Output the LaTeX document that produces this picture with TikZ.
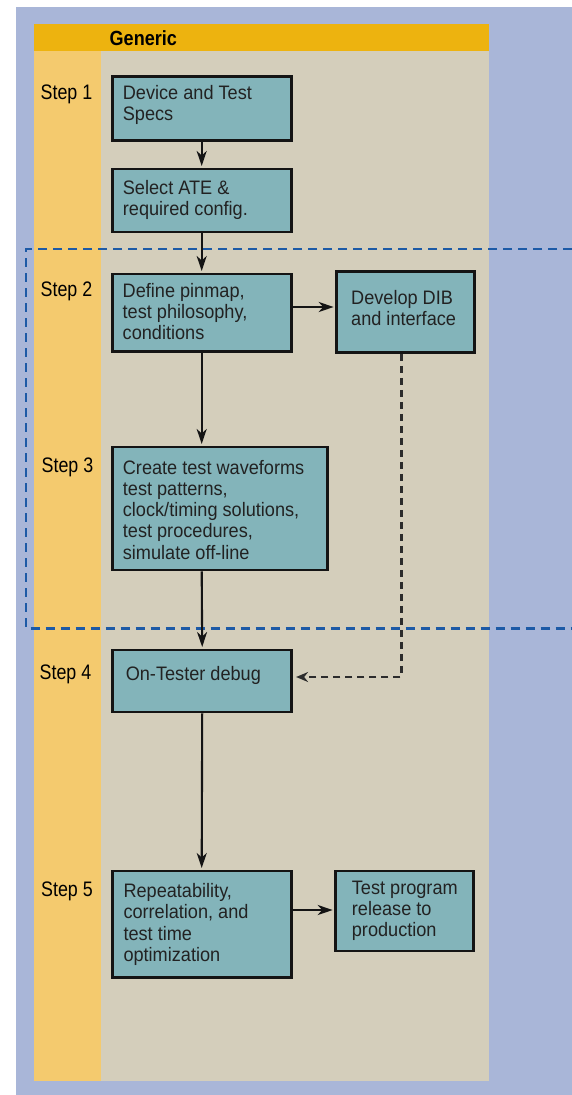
\documentclass[tikz,border=0pt]{standalone}
\usepackage{fontspec}
\usetikzlibrary{arrows.meta,calc}
\newfontfamily\boxfont{Liberation Sans}[FakeStretch=0.93]
\newfontfamily\stepfont{Liberation Sans}[FakeStretch=0.85]
\newfontfamily\headfont{Liberation Sans}[FakeStretch=0.88]
\definecolor{bgblue}{HTML}{A9B6D8}
\definecolor{hdr}{HTML}{EDB30F}
\definecolor{col}{HTML}{F4CA6E}
\definecolor{beige}{HTML}{D4CEBB}
\definecolor{boxfill}{HTML}{83B4BA}
\definecolor{ink}{HTML}{141414}
\definecolor{txt}{HTML}{222222}
\definecolor{dblue}{HTML}{1D5AA6}
\newcommand{\firstline}{\rule{0pt}{14pt}}
\tikzset{
  stepbox/.style={draw=ink, fill=boxfill, line width=2.8pt, inner sep=0pt, anchor=north west},
  boxtext/.style={anchor=north west, inner sep=0pt, align=left, text=txt,
    font=\boxfont\fontsize{19.5}{21.2}\selectfont},
  steplabel/.style={anchor=base, inner sep=0pt, text=black,
    font=\stepfont\fontsize{21}{24}\selectfont},
  arr/.style={draw=ink, line width=2.1pt, -{Stealth[length=15pt,width=10pt,inset=4.5pt]}, shorten >=1.5pt},
  dasharr/.style={draw=ink!90, line width=2.8pt, dash pattern=on 7pt off 5pt,
    -{Stealth[length=12pt,width=10pt,inset=4pt]}, shorten >=3pt},
  bluedash/.style={draw=dblue, line width=2.4pt, dash pattern=on 9pt off 6pt}
}
\begin{document}
\begin{tikzpicture}[x=1pt,y=-1pt]
\useasboundingbox (0,0) rectangle (572,1095);
\fill[white] (0,0) rectangle (572,1095);
\fill[bgblue] (16,7) rectangle (572,1095);
\fill[hdr] (34,23.5) rectangle (489,51);
\fill[col] (34,51) rectangle (101,1081);
\fill[beige] (101,51) rectangle (489,1081);
\node[anchor=base west, inner sep=0pt, text=black,
  font=\headfont\bfseries\fontsize{20.5}{24}\selectfont] (hd) at (109.5,45) {Generic};

% step labels
\node[steplabel] (s1) at (66.5,99) {Step 1};
\node[steplabel] (s2) at (66.5,296.7) {Step 2};
\node[steplabel] (s3) at (67.5,472.3) {Step 3};
\node[steplabel] (s4) at (65.5,679) {Step 4};
\node[steplabel] (s5) at (67,896.7) {Step 5};

% dashed blue region
\coordinate (dtl) at (26,249);
\coordinate (dbl) at (26,628.5);
\coordinate (dtr) at (572,249);
\coordinate (dbr) at (572,628.5);
\draw[bluedash] (dtr) -- (dtl) -- (dbl) -- (dbr);

% boxes
\node[stepbox, minimum width=179pt, minimum height=64pt] (b1) at (110.8,74.7) {};
\node[stepbox, minimum width=179pt, minimum height=63pt] (b2) at (110.8,167.5) {};
\node[stepbox, minimum width=179pt, minimum height=77.5pt] (b3) at (110.8,272.5) {};
\node[stepbox, minimum width=138pt, minimum height=81pt] (b4) at (335.2,270) {};
\node[stepbox, minimum width=215pt, minimum height=123pt] (b5) at (110.8,445.5) {};
\node[stepbox, minimum width=179pt, minimum height=62pt] (b6) at (111.3,648.5) {};
\node[stepbox, minimum width=179pt, minimum height=106.5pt] (b7) at (110.8,869.5) {};
\node[stepbox, minimum width=137.5pt, minimum height=80pt] (b8) at (334.2,869.5) {};

% box texts (anchored at the cap top of the first line)
\node[boxtext] (t1) at (122.7,85) {\firstline Device and Test\\Specs};
\node[boxtext] (t2) at (122.7,180) {\firstline Select ATE \&\\required config.};
\node[boxtext] (t3) at (122.5,282.7) {\firstline Define pinmap,\\test philosophy,\\conditions};
\node[boxtext] (t4) at (351,290) {\firstline Develop DIB\\and interface};
\node[boxtext] (t5) at (122.7,460) {\firstline Create test waveforms\\test patterns,\\clock/timing solutions,\\test procedures,\\simulate off-line};
\node[boxtext] (t6) at (125.6,666) {\firstline On-Tester debug};
\node[boxtext] (t7) at (123.3,883.3) {\firstline Repeatability,\\correlation, and\\test time\\optimization};
\node[boxtext] (t8) at (351.7,880) {\firstline Test program\\release to\\production};

% connectors
\draw[arr] (b1.south) -- (b2.north);
\draw[arr] (b2.south) -- (b3.north);
\coordinate (p34) at ([yshift=-34.5pt]b3.north east);
\draw[arr] (p34) -- (p34 -| b4.west);
\draw[arr] (b3.south) -- (b3.south |- b5.north);
\draw[arr] (b3.south |- b5.south) -- (b6.north);
\draw[arr] (b6.south) -- (b7.north);
\coordinate (p78) at ([yshift=-40.5pt]b7.north east);
\draw[arr] (p78) -- (p78 -| b8.west);
\coordinate (d4) at ([xshift=-4.5pt]b4.south);
\coordinate (d6) at ([yshift=-28.5pt]b6.north east);
\draw[dasharr] (d4) |- (d6);
\end{tikzpicture}
\end{document}
